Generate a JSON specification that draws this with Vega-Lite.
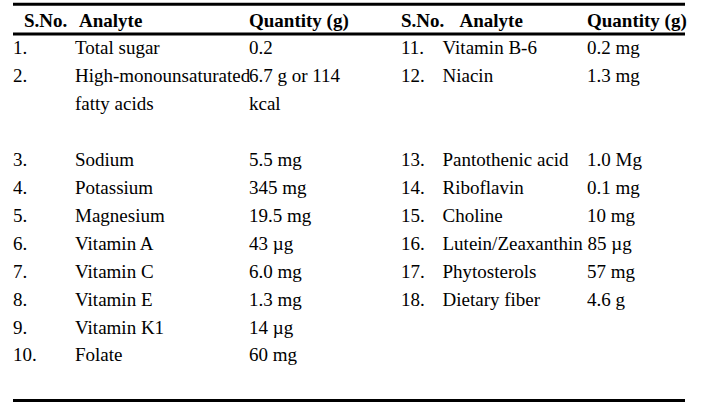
{
  "$schema": "https://vega.github.io/schema/vega-lite/v6.json",
  "width": 705,
  "height": 407,
  "autosize": {"type": "fit", "contains": "padding"},
  "padding": {"left": 11, "right": 18, "top": 0, "bottom": 0},
  "background": "white",
  "config": {"view": {"stroke": null}},
  "layer": [
    {
      "data": {"values": [{"pos": -0.799}, {"pos": 0.265}, {"pos": 13.401}]},
      "mark": {"type": "rule", "strokeWidth": 3, "color": "black"},
      "encoding": {
        "y": {"field": "pos", "type": "quantitative", "axis": null,
              "scale": {"domain": [-0.953, 13.634], "reverse": true, "nice": false, "zero": false}}
      }
    },
    {
      "data": {"values": [
        {"col": 6, "line": 0, "text": "S.No."},
        {"col": 7, "line": 0, "text": "Analyte"},
        {"col": 2, "line": 0, "text": "Quantity (g)"},
        {"col": 3, "line": 0, "text": "S.No."},
        {"col": 8, "line": 0, "text": "Analyte"},
        {"col": 5, "line": 0, "text": "Quantity (g)"}
      ]},
      "mark": {"type": "text", "font": "Liberation Serif", "fontSize": 19, "fontWeight": "bold", "align": "left", "baseline": "alphabetic", "color": "black"},
      "encoding": {
        "x": {"field": "col", "type": "quantitative", "axis": null,
              "scale": {"domain": [0, 1, 2, 3, 4, 5, 6, 7, 8], "range": [0, 62, 236, 388, 429.5, 574, 11, 66, 446.5], "nice": false, "zero": false}},
        "y": {"field": "line", "type": "quantitative", "axis": null,
              "scale": {"domain": [-0.953, 13.634], "reverse": true, "nice": false, "zero": false}},
        "text": {"field": "text"}
      }
    },
    {
      "data": {"values": [
        {"col": 0, "line": 1, "text": "1."},
        {"col": 1, "line": 1, "text": "Total sugar"},
        {"col": 2, "line": 1, "text": "0.2"},
        {"col": 0, "line": 2, "text": "2."},
        {"col": 1, "line": 2, "text": "High-monounsaturated"},
        {"col": 2, "line": 2, "text": "6.7 g or 114"},
        {"col": 1, "line": 3, "text": "fatty acids"},
        {"col": 2, "line": 3, "text": "kcal"},
        {"col": 0, "line": 5, "text": "3."},
        {"col": 1, "line": 5, "text": "Sodium"},
        {"col": 2, "line": 5, "text": "5.5 mg"},
        {"col": 0, "line": 6, "text": "4."},
        {"col": 1, "line": 6, "text": "Potassium"},
        {"col": 2, "line": 6, "text": "345 mg"},
        {"col": 0, "line": 7, "text": "5."},
        {"col": 1, "line": 7, "text": "Magnesium"},
        {"col": 2, "line": 7, "text": "19.5 mg"},
        {"col": 0, "line": 8, "text": "6."},
        {"col": 1, "line": 8, "text": "Vitamin A"},
        {"col": 2, "line": 8, "text": "43 µg"},
        {"col": 0, "line": 9, "text": "7."},
        {"col": 1, "line": 9, "text": "Vitamin C"},
        {"col": 2, "line": 9, "text": "6.0 mg"},
        {"col": 0, "line": 10, "text": "8."},
        {"col": 1, "line": 10, "text": "Vitamin E"},
        {"col": 2, "line": 10, "text": "1.3 mg"},
        {"col": 0, "line": 11, "text": "9."},
        {"col": 1, "line": 11, "text": "Vitamin K1"},
        {"col": 2, "line": 11, "text": "14 µg"},
        {"col": 0, "line": 12, "text": "10."},
        {"col": 1, "line": 12, "text": "Folate"},
        {"col": 2, "line": 12, "text": "60 mg"},
        {"col": 3, "line": 1, "text": "11."},
        {"col": 4, "line": 1, "text": "Vitamin B-6"},
        {"col": 5, "line": 1, "text": "0.2 mg"},
        {"col": 3, "line": 2, "text": "12."},
        {"col": 4, "line": 2, "text": "Niacin"},
        {"col": 5, "line": 2, "text": "1.3 mg"},
        {"col": 3, "line": 5, "text": "13."},
        {"col": 4, "line": 5, "text": "Pantothenic acid"},
        {"col": 5, "line": 5, "text": "1.0 Mg"},
        {"col": 3, "line": 6, "text": "14."},
        {"col": 4, "line": 6, "text": "Riboflavin"},
        {"col": 5, "line": 6, "text": "0.1 mg"},
        {"col": 3, "line": 7, "text": "15."},
        {"col": 4, "line": 7, "text": "Choline"},
        {"col": 5, "line": 7, "text": "10 mg"},
        {"col": 3, "line": 8, "text": "16."},
        {"col": 4, "line": 8, "text": "Lutein/Zeaxanthin 85 µg"},
        {"col": 3, "line": 9, "text": "17."},
        {"col": 4, "line": 9, "text": "Phytosterols"},
        {"col": 5, "line": 9, "text": "57 mg"},
        {"col": 3, "line": 10, "text": "18."},
        {"col": 4, "line": 10, "text": "Dietary fiber"},
        {"col": 5, "line": 10, "text": "4.6 g"}
      ]},
      "mark": {"type": "text", "font": "Liberation Serif", "fontSize": 19, "align": "left", "baseline": "alphabetic", "color": "black"},
      "encoding": {
        "x": {"field": "col", "type": "quantitative", "axis": null,
              "scale": {"domain": [0, 1, 2, 3, 4, 5, 6, 7, 8], "range": [0, 62, 236, 388, 429.5, 574, 11, 66, 446.5], "nice": false, "zero": false}},
        "y": {"field": "line", "type": "quantitative", "axis": null,
              "scale": {"domain": [-0.953, 13.634], "reverse": true, "nice": false, "zero": false}},
        "text": {"field": "text"}
      }
    }
  ]
}
